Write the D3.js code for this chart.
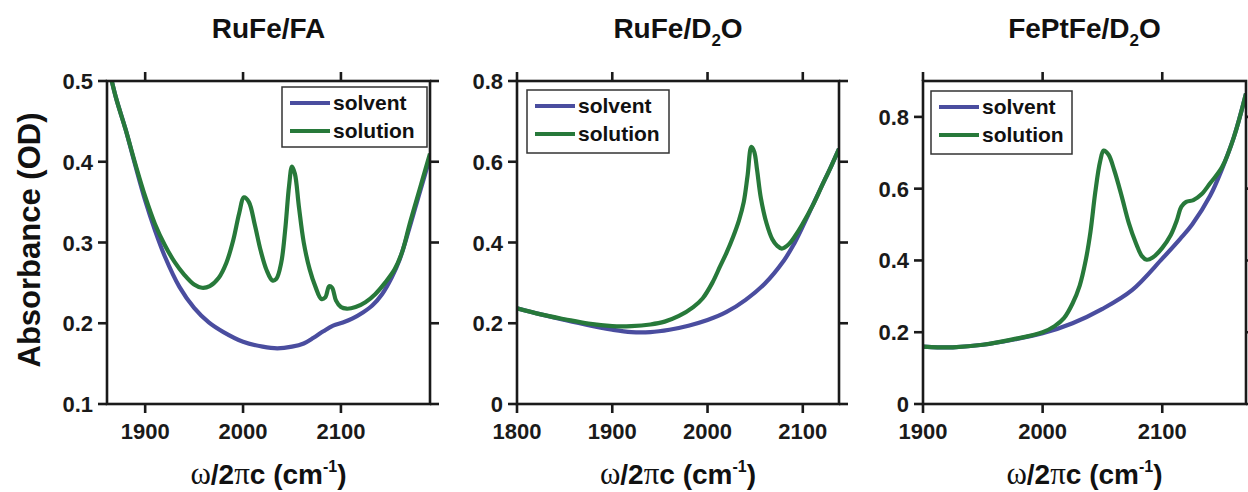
<!DOCTYPE html>
<html>
<head>
<meta charset="utf-8">
<script src="https://cdn.jsdelivr.net/npm/d3@7"></script>
<style>
  body { margin: 0; background: #fff; }
  svg { font-family: "Liberation Sans", Arial, sans-serif; font-weight: bold; }
  .axis-line { stroke: #1a1a1a; stroke-width: 2.6; fill: none; }
  .tick { stroke: #1a1a1a; stroke-width: 2.6; }
  .tick-label { font-size: 22px; fill: #1a1a1a; }
</style>
</head>
<body>
<svg width="1248" height="492"></svg>
<script>
// RuFe / FA
const faSolvent = [[1863,0.515],[1870,0.48],[1880,0.44],[1890,0.395],[1900,0.352],[1910,0.315],[1920,0.283],[1935,0.245],[1950,0.219],[1965,0.201],[1980,0.189],[2000,0.177],[2020,0.171],[2035,0.169],[2050,0.171],[2062,0.175],[2072,0.182],[2082,0.190],[2092,0.197],[2102,0.201],[2112,0.206],[2122,0.213],[2132,0.222],[2142,0.236],[2152,0.257],[2160,0.279],[2170,0.318],[2180,0.36],[2191,0.405]];
const faSolution = [[1863,0.515],[1870,0.48],[1880,0.44],[1890,0.397],[1900,0.357],[1910,0.323],[1920,0.297],[1930,0.276],[1940,0.260],[1950,0.248],[1958,0.244],[1966,0.246],[1975,0.256],[1983,0.275],[1990,0.303],[1996,0.336],[2001,0.356],[2006,0.350],[2012,0.322],[2018,0.290],[2024,0.266],[2030,0.253],[2034,0.255],[2039,0.275],[2043,0.315],[2047,0.370],[2050,0.394],[2053,0.385],[2057,0.345],[2062,0.300],[2068,0.267],[2074,0.245],[2080,0.230],[2084,0.232],[2088,0.246],[2091,0.244],[2095,0.228],[2100,0.220],[2106,0.218],[2115,0.220],[2125,0.226],[2135,0.236],[2145,0.250],[2155,0.267],[2163,0.290],[2170,0.322],[2180,0.364],[2191,0.41]];

// RuFe / D2O
const d2oSolvent = [[1800,0.237],[1825,0.222],[1850,0.208],[1875,0.195],[1900,0.184],[1920,0.178],[1940,0.178],[1960,0.184],[1980,0.194],[2000,0.208],[2020,0.228],[2040,0.258],[2060,0.298],[2080,0.355],[2090,0.393],[2100,0.44],[2110,0.49],[2120,0.54],[2130,0.59],[2138,0.632]];
const d2oSolution = [[1800,0.237],[1825,0.222],[1850,0.210],[1875,0.199],[1900,0.193],[1920,0.193],[1940,0.197],[1955,0.204],[1970,0.218],[1985,0.240],[1995,0.262],[2005,0.300],[2013,0.340],[2020,0.375],[2027,0.415],[2033,0.455],[2038,0.50],[2042,0.565],[2046,0.637],[2049,0.625],[2052,0.58],[2056,0.51],[2062,0.447],[2068,0.408],[2073,0.392],[2078,0.385],[2085,0.395],[2093,0.42],[2100,0.447],[2110,0.49],[2120,0.54],[2130,0.59],[2138,0.632]];

// FePtFe / D2O
const ptSolvent = [[1900,0.160],[1912,0.158],[1925,0.158],[1950,0.165],[1975,0.179],[2000,0.197],[2025,0.225],[2050,0.265],[2075,0.318],[2100,0.405],[2115,0.46],[2125,0.50],[2140,0.58],[2150,0.655],[2160,0.745],[2170,0.865]];
const ptSolution = [[1900,0.160],[1912,0.158],[1925,0.158],[1950,0.165],[1975,0.180],[2000,0.200],[2010,0.217],[2018,0.240],[2025,0.280],[2031,0.330],[2036,0.400],[2040,0.480],[2044,0.590],[2048,0.675],[2051,0.706],[2055,0.695],[2060,0.650],[2066,0.580],[2072,0.505],[2078,0.448],[2083,0.412],[2087,0.402],[2092,0.408],[2100,0.435],[2107,0.470],[2112,0.510],[2116,0.550],[2120,0.563],[2126,0.568],[2133,0.585],[2140,0.615],[2150,0.66],[2160,0.745],[2170,0.865]];

const seriesNames = ["solvent", "solution"];
const faXTicks = [1900, 2000, 2100];
const faYTicks = [0.1, 0.2, 0.3, 0.4, 0.5];
const d2oXTicks = [1800, 1900, 2000, 2100];
const d2oYTicks = [0, 0.2, 0.4, 0.6, 0.8];
const ptXTicks = [1900, 2000, 2100];
const ptYTicks = [0, 0.2, 0.4, 0.6, 0.8];

const colors = { solvent: "#4a4d9f", solution: "#27793a" };

const panels = [
  { title: ["RuFe/FA"], left: 107, right: 430, xDom: [1861, 2191], yDom: [0.1, 0.5],
    xTicks: faXTicks, yTicks: faYTicks, solvent: faSolvent, solution: faSolution,
    legend: { x: 282, y: 87, w: 145, h: 60 } },
  { title: ["RuFe/D", "2", "O"], left: 517, right: 839, xDom: [1800, 2138], yDom: [0, 0.8],
    xTicks: d2oXTicks, yTicks: d2oYTicks, solvent: d2oSolvent, solution: d2oSolution,
    legend: { x: 527, y: 90, w: 142, h: 63 } },
  { title: ["FePtFe/D", "2", "O"], left: 923, right: 1246, xDom: [1900, 2170], yDom: [0, 0.9],
    xTicks: ptXTicks, yTicks: ptYTicks, solvent: ptSolvent, solution: ptSolution,
    legend: { x: 931, y: 91, w: 141, h: 63 } }
];

const plotTop = 81, plotBottom = 404, tickLen = 9;
const svg = d3.select("svg");
const fmt = d => d === 0 ? "0" : d.toFixed(1);

panels.forEach((p, i) => {
  const x = d3.scaleLinear().domain(p.xDom).range([p.left, p.right]);
  const y = d3.scaleLinear().domain(p.yDom).range([plotBottom, plotTop]);
  const g = svg.append("g");

  g.append("clipPath").attr("id", "clip" + i)
    .append("rect").attr("x", p.left).attr("y", plotTop)
    .attr("width", p.right - p.left).attr("height", plotBottom - plotTop);

  const line = d3.line().x(d => x(d[0])).y(d => y(d[1])).curve(d3.curveCatmullRom.alpha(0.5));

  seriesNames.forEach(s => {
    g.append("path").datum(p[s])
      .attr("clip-path", `url(#clip${i})`)
      .attr("fill", "none").attr("stroke", colors[s])
      .attr("stroke-width", 4.2).attr("stroke-linejoin", "round")
      .attr("d", line);
  });

  // frame
  g.append("rect").attr("class", "axis-line")
    .attr("x", p.left).attr("y", plotTop)
    .attr("width", p.right - p.left).attr("height", plotBottom - plotTop);

  // x ticks (bottom and top, outward)
  g.selectAll(".xt").data(p.xTicks).enter().append("line").attr("class", "tick")
    .attr("x1", d => x(d)).attr("x2", d => x(d)).attr("y1", plotBottom).attr("y2", plotBottom + tickLen);
  g.selectAll(".xtt").data(p.xTicks).enter().append("line").attr("class", "tick")
    .attr("x1", d => x(d)).attr("x2", d => x(d)).attr("y1", plotTop).attr("y2", plotTop - tickLen);
  g.selectAll(".xl").data(p.xTicks).enter().append("text").attr("class", "tick-label")
    .attr("x", d => x(d)).attr("y", 439).attr("text-anchor", "middle").text(d => d);

  // y ticks (left and right, outward)
  g.selectAll(".yt").data(p.yTicks).enter().append("line").attr("class", "tick")
    .attr("x1", p.left).attr("x2", p.left - tickLen).attr("y1", d => y(d)).attr("y2", d => y(d));
  g.selectAll(".ytr").data(p.yTicks).enter().append("line").attr("class", "tick")
    .attr("x1", p.right).attr("x2", p.right + tickLen).attr("y1", d => y(d)).attr("y2", d => y(d));
  g.selectAll(".yl").data(p.yTicks).enter().append("text").attr("class", "tick-label")
    .attr("x", p.left - 14).attr("y", d => y(d) + 8).attr("text-anchor", "end").text(fmt);

  // title
  const cx = (p.left + p.right) / 2;
  const t = g.append("text").attr("x", cx).attr("y", 38).attr("text-anchor", "middle")
    .attr("font-size", 28).attr("fill", "#111");
  t.append("tspan").text(p.title[0]);
  if (p.title.length > 1) {
    t.append("tspan").attr("font-size", 17).attr("dy", 8).text(p.title[1]);
    t.append("tspan").attr("dy", -8).text(p.title[2]);
  }

  // x label
  const xl = g.append("text").attr("x", cx).attr("y", 484).attr("text-anchor", "middle")
    .attr("font-size", 28).attr("fill", "#111");
  xl.append("tspan").attr("font-family", "'Liberation Serif', serif").attr("font-weight", "normal")
    .attr("font-size", 31).text("ω");
  xl.append("tspan").text("/2");
  xl.append("tspan").attr("font-family", "'Liberation Serif', serif").attr("font-weight", "normal")
    .attr("font-size", 31).text("π");
  xl.append("tspan").text("c (cm");
  xl.append("tspan").attr("font-size", 16).attr("dy", -12).text("-1");
  xl.append("tspan").attr("dy", 12).text(")");

  // legend
  const L = p.legend;
  const lg = g.append("g");
  lg.append("rect").attr("x", L.x).attr("y", L.y).attr("width", L.w).attr("height", L.h)
    .attr("fill", "#fff").attr("stroke", "#333").attr("stroke-width", 1.5);
  seriesNames.forEach((s, k) => {
    const ly = L.y + 16 + k * 28;
    lg.append("line").attr("x1", L.x + 8).attr("x2", L.x + 48).attr("y1", ly).attr("y2", ly)
      .attr("stroke", colors[s]).attr("stroke-width", 4.2);
    lg.append("text").attr("x", L.x + 51).attr("y", ly + 7).attr("font-size", 21)
      .attr("fill", "#111").text(s);
  });
});

// y-axis title
svg.append("text").attr("transform", "translate(40,240) rotate(-90)")
  .attr("text-anchor", "middle").attr("font-size", 31).attr("fill", "#111")
  .text("Absorbance (OD)");
</script>
</body>
</html>
